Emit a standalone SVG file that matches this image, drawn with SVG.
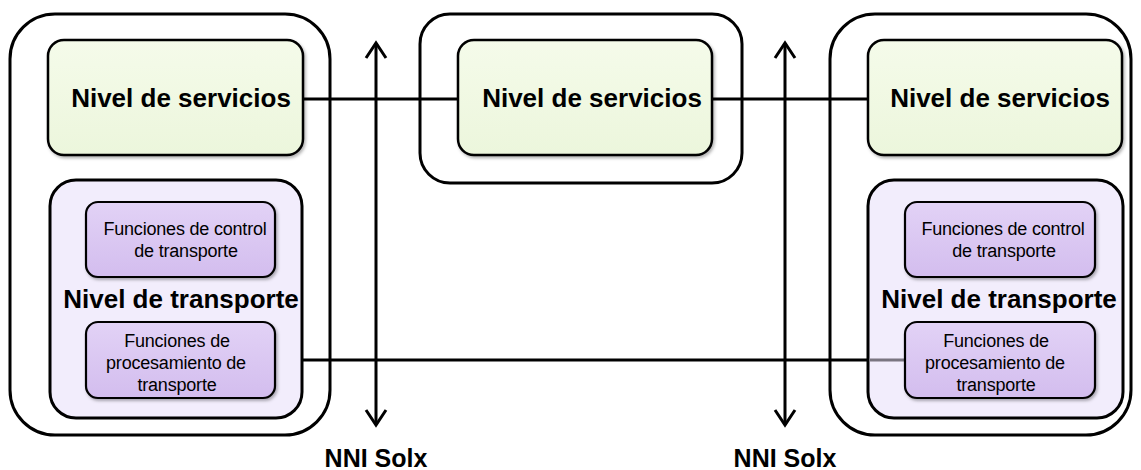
<svg xmlns="http://www.w3.org/2000/svg" width="1141" height="470" viewBox="0 0 1141 470">
<defs>
<linearGradient id="gSvc" x1="0" y1="0" x2="0" y2="1">
<stop offset="0" stop-color="#f5fbea"/><stop offset="1" stop-color="#ecf6dc"/>
</linearGradient>
<linearGradient id="gFn" x1="0" y1="0" x2="0" y2="1">
<stop offset="0" stop-color="#e2d2f6"/><stop offset="1" stop-color="#d3bdee"/>
</linearGradient>
<filter id="sh" x="-10%" y="-10%" width="125%" height="130%">
<feDropShadow dx="1.5" dy="2" stdDeviation="1.5" flood-color="#000" flood-opacity="0.3"/>
</filter>
<marker id="chev" viewBox="0 0 24 24" refX="19" refY="12" markerWidth="24" markerHeight="24" markerUnits="userSpaceOnUse" orient="auto-start-reverse">
<path d="M4,2 L19,12 L4,22" fill="none" stroke="#000" stroke-width="3"/>
</marker>
</defs>
<style>
.outer{fill:#fff;stroke:#000;stroke-width:3}
.svc{fill:url(#gSvc);stroke:#000;stroke-width:2.5}
.tr{fill:#f2edfc;stroke:#000;stroke-width:3}
.fn{fill:url(#gFn);stroke:#000;stroke-width:2.2}
.big{font-family:"Liberation Sans",Arial,sans-serif;font-weight:bold;font-size:26px;fill:#000;text-anchor:middle}
.lbl{font-family:"Liberation Sans",Arial,sans-serif;font-weight:bold;font-size:25px;fill:#000;text-anchor:middle}
.sm{font-family:"Liberation Sans",Arial,sans-serif;font-size:18px;fill:#000;text-anchor:middle;letter-spacing:-0.2px}
.ln{stroke:#000;stroke-width:3;fill:none}
</style>
<rect width="1141" height="470" fill="#fff"/>

<g id="node-left">
<rect class="outer" x="10" y="14" width="320" height="421" rx="45"/>
<rect class="svc" x="48" y="40" width="255" height="115" rx="16" filter="url(#sh)"/>
<text class="big" x="181" y="107">Nivel de servicios</text>
</g>
<g id="node-mid">
<rect class="outer" x="420" y="14" width="322" height="169" rx="30"/>
<rect class="svc" x="458" y="40" width="254" height="115" rx="16" filter="url(#sh)"/>
<text class="big" x="592" y="107">Nivel de servicios</text>
</g>
<g id="node-right">
<rect class="outer" x="830" y="14" width="301" height="421" rx="45"/>
<rect class="svc" x="868" y="40" width="254" height="115" rx="16" filter="url(#sh)"/>
<text class="big" x="1000" y="107">Nivel de servicios</text>
</g>

<g id="connectors">
<line class="ln" x1="303" y1="99" x2="458" y2="99"/>
<line class="ln" x1="712" y1="99" x2="868" y2="99"/>
<line class="ln" x1="275" y1="360" x2="868" y2="360"/>
<line class="ln" x1="376" y1="43" x2="376" y2="425" marker-start="url(#chev)" marker-end="url(#chev)"/>
<line class="ln" x1="785" y1="43" x2="785" y2="425" marker-start="url(#chev)" marker-end="url(#chev)"/>
</g>

<g id="node-left-transport">
<rect class="tr" x="50" y="180" width="252" height="238" rx="26"/>
<text class="big" x="181" y="308">Nivel de transporte</text>
</g>
<g id="node-left-control">
<rect class="fn" x="86" y="202" width="189" height="75" rx="12" filter="url(#sh)"/>
<text class="sm" x="185" y="235">Funciones de control</text>
<text class="sm" x="186" y="257">de transporte</text>
</g>
<g id="node-left-proc">
<rect class="fn" x="86" y="322" width="189" height="76" rx="12" filter="url(#sh)"/>
<text class="sm" x="177" y="347">Funciones de</text>
<text class="sm" x="176" y="369">procesamiento de</text>
<text class="sm" x="177" y="391">transporte</text>
</g>

<g id="node-right-transport">
<rect class="tr" x="868" y="180" width="255" height="238" rx="26"/>
<line x1="870" y1="360" x2="905" y2="360" stroke="#7a7580" stroke-width="3"/>
<text class="big" x="999" y="308">Nivel de transporte</text>
</g>
<g id="node-right-control">
<rect class="fn" x="905" y="202" width="190" height="75" rx="12" filter="url(#sh)"/>
<text class="sm" x="1003" y="235">Funciones de control</text>
<text class="sm" x="1004" y="257">de transporte</text>
</g>
<g id="node-right-proc">
<rect class="fn" x="905" y="322" width="190" height="76" rx="12" filter="url(#sh)"/>
<text class="sm" x="996" y="347">Funciones de</text>
<text class="sm" x="995" y="369">procesamiento de</text>
<text class="sm" x="996" y="391">transporte</text>
</g>

<g id="labels">
<text class="lbl" x="376" y="467">NNI Solx</text>
<text class="lbl" x="785" y="467">NNI Solx</text>
</g>
</svg>
